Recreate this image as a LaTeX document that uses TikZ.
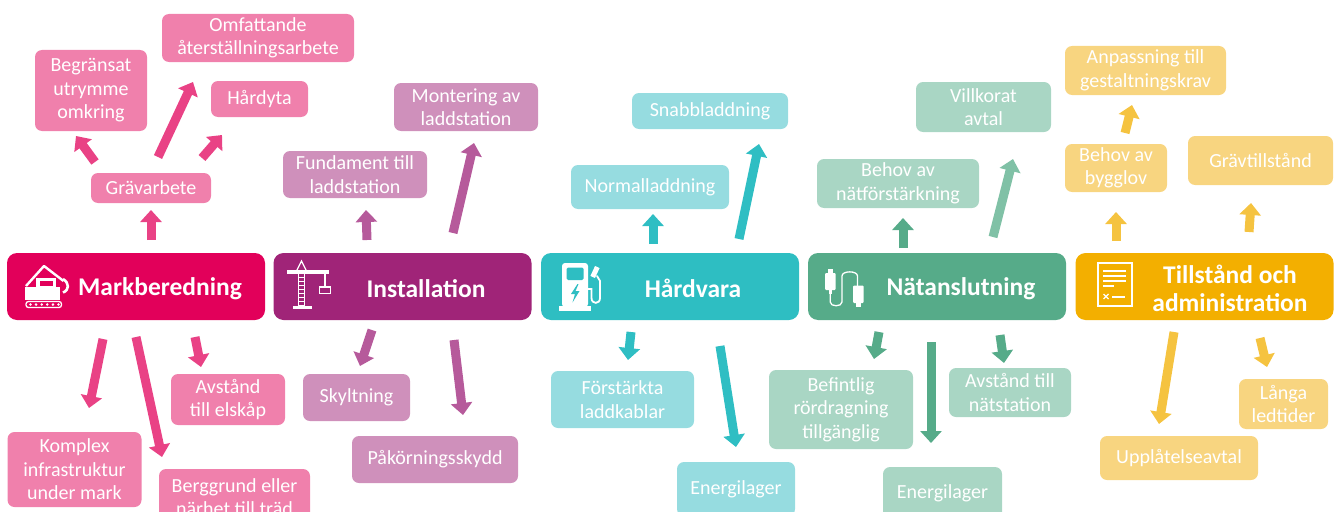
\documentclass[tikz,border=0pt]{standalone}
\usepackage{fontspec}
\setmainfont{Carlito}
\usetikzlibrary{arrows.meta}
\definecolor{mkD}{RGB}{226,0,90}
\definecolor{mkL}{RGB}{240,128,172}
\definecolor{mkA}{RGB}{233,66,133}
\definecolor{inD}{RGB}{160,36,120}
\definecolor{inL}{RGB}{207,144,187}
\definecolor{inA}{RGB}{182,90,155}
\definecolor{hwD}{RGB}{46,190,194}
\definecolor{hwL}{RGB}{150,220,224}
\definecolor{hwA}{RGB}{47,190,195}
\definecolor{ntD}{RGB}{86,171,137}
\definecolor{ntL}{RGB}{169,214,196}
\definecolor{ntA}{RGB}{86,171,137}
\definecolor{ntB}{RGB}{128,193,166}
\definecolor{tsD}{RGB}{243,175,0}
\definecolor{tsL}{RGB}{248,213,128}
\definecolor{tsA}{RGB}{245,195,64}
\newcommand\blockarrow[4]{\coordinate (#1s) at (#3); \coordinate (#1e) at (#4); \draw[arr,#2] (#1s) -- (#1e);}
\begin{document}
\begin{tikzpicture}[x=1pt,y=-1pt,
  lbox/.style={rounded corners=7pt, inner sep=0pt, align=center, text=white, font=\fontsize{20}{23.5}\selectfont},
  mbox/.style={rounded corners=10pt, inner sep=0pt, minimum width=258pt, minimum height=67pt},
  ttl/.style={text=white, font=\fontsize{25.5}{28.5}\selectfont\bfseries, align=center, inner sep=0pt, yshift=-2pt},
  arr/.style={line width=9pt, -{Triangle[width=21pt,length=12pt]}},
  ic/.style={white, line width=1.4pt}]
\useasboundingbox (0,0) rectangle (1337,511);

% ---------- main boxes ----------
\node[mbox, fill=mkD] (mk) at (136,286.5) {};
\node[mbox, fill=inD] (in) at (402.5,286.5) {};
\node[mbox, fill=hwD] (hw) at (670,286.5) {};
\node[mbox, fill=ntD] (nt) at (937,286.5) {};
\node[mbox, fill=tsD] (ts) at (1204.5,286.5) {};
\node[ttl] (mkT) at (160,286.5) {Markberedning};
\node[ttl] (inT) at (426,286.5) {Installation};
\node[ttl] (hwT) at (693,286.5) {Hårdvara};
\node[ttl] (ntT) at (961,286.5) {Nätanslutning};
\node[ttl] (tsT) at (1230,286.5) {Tillstånd och\\administration};

% ---------- icons ----------
% excavator
\fill[white] (25,287) rectangle (60,300);
\fill[white] (36,277.5) rectangle (55.5,288);
\fill[mkD] (40,280.5) rectangle (52.5,286);
\draw[white, line width=2.4pt, line join=round] (26,286) -- (44,266) -- (63.5,281);
\draw[white, line width=2.6pt] (63,279) .. controls (69.5,283) and (69.5,290) .. (63,292.5);
\draw[white, line width=1.3pt, rounded corners=2.5pt] (26,301.5) rectangle (61.5,307.5);
\foreach \i in {0,...,5} \fill[white] (30.5+\i*5.6,304.5) circle (1.4pt);
% crane
\fill[white] (287,270) rectangle (329,273.5);
\draw[ic, line width=1.3pt] (297,270) -- (301.5,261) -- (306,270);
\draw[ic, line width=1.3pt] (298.5,273) -- (298.5,306) (304.5,273) -- (304.5,306);
\foreach \yy in {277,281,...,305} \draw[white, line width=0.9pt] (298.5,\yy) -- (304.5,\yy);
\fill[white] (293,305.5) rectangle (311.5,309);
\draw[white, line width=1.2pt] (325,273) -- (325,287);
\draw[white, line width=1.5pt] (319.5,287) rectangle (330.5,293.5);
% fuel pump
\fill[white, rounded corners=3pt] (562,263) rectangle (588,307);
\fill[hwD, rounded corners=1.5pt] (566.5,267.5) rectangle (583.5,280);
\fill[hwD] (577.5,284) -- (571,294) -- (575,294) -- (572.5,302.5) -- (579.5,291) -- (575.5,291) -- (578.5,284) -- cycle;
\fill[white] (559,306) rectangle (591,311);
\draw[white, line width=1.8pt, line cap=round] (588,289) -- (591.5,289) -- (591.5,298) .. controls (591.5,304.5) and (600,304.5) .. (600,298) -- (600,281) -- (597,276);
\fill[white, rotate around={-25:(595,272)}] (592.5,266.5) rectangle (597.5,277.5);
% cable
\fill[white, rounded corners=1pt] (825,273) rectangle (835.5,290);
\fill[white] (828,269) rectangle (832.5,273);
\fill[white] (829,290) rectangle (831.5,294);
\draw[white, line width=1.3pt] (830.2,294) -- (830.2,302) .. controls (830.2,307) and (842,307) .. (842,302) -- (842,276) .. controls (842,270.5) and (857.5,270.5) .. (857.5,276) -- (857.5,286);
\fill[white, rounded corners=1pt] (853,285.5) rectangle (863.5,303);
\fill[white] (856,303) rectangle (860.5,306.5);
% document
\draw[white, line width=1.8pt] (1098,263) rectangle (1132,306);
\foreach \yy in {270,275,280} \fill[white] (1103,\yy) rectangle (1126,\yy+1.8);
\fill[white] (1103,285) rectangle (1114,286.8);
\draw[white, line width=1.3pt] (1103.5,294) -- (1108.5,299) (1103.5,299) -- (1108.5,294);
\fill[white] (1112,296) rectangle (1125,297.8);

% ---------- Markberedning labels ----------
\node[lbox, fill=mkL, minimum width=192pt, minimum height=48pt] (omf) at (258,38) {Omfattande\\återställningsarbete};
\node[lbox, fill=mkL, minimum width=112pt, minimum height=81pt] (beg) at (91,90.5) {Begränsat\\utrymme\\omkring};
\node[lbox, fill=mkL, minimum width=97pt, minimum height=36pt] (hard) at (259.5,99) {Hårdyta};
\node[lbox, fill=mkL, minimum width=120pt, minimum height=30pt] (grav) at (151,188) {Grävarbete};
\node[lbox, fill=mkL, minimum width=134pt, minimum height=75pt] (komp) at (74.5,469.5) {Komplex\\infrastruktur\\under mark};
\node[lbox, fill=mkL, minimum width=151pt, minimum height=56pt] (berg) at (234.5,497) {Berggrund eller\\närhet till träd};
\node[lbox, fill=mkL, minimum width=114pt, minimum height=51pt] (avst) at (228,399.5) {Avstånd\\till elskåp};
\blockarrow{m1}{mkA}{151,240}{151,210}
\blockarrow{m2}{mkA}{95,162}{76,136}
\blockarrow{m3}{mkA}{158,157}{193,82}
\blockarrow{m4}{mkA}{202,158}{222,135}
\blockarrow{m5}{mkA}{103,339}{89,408}
\blockarrow{m6}{mkA}{136,337}{162,457}
\blockarrow{m7}{mkA}{195,337}{201,367}

% ---------- Installation labels ----------
\node[lbox, fill=inL, minimum width=144pt, minimum height=47pt] (fund) at (355,174.5) {Fundament till\\laddstation};
\node[lbox, fill=inL, minimum width=144pt, minimum height=48pt] (mont) at (466,107) {Montering av\\laddstation};
\node[lbox, fill=inL, minimum width=107pt, minimum height=47pt] (skylt) at (356.5,397.5) {Skyltning};
\node[lbox, fill=inL, minimum width=166pt, minimum height=47pt] (pak) at (435,459.5) {Påkörningsskydd};
\blockarrow{i1}{inA}{367,240}{366,210}
\blockarrow{i2}{inA}{453,233}{474,143}
\blockarrow{i3}{inA}{372,330}{360,366}
\blockarrow{i4}{inA}{454,340}{463,415}

% ---------- Hårdvara labels ----------
\node[lbox, fill=hwL, minimum width=156pt, minimum height=36pt] (snabb) at (710,111) {Snabbladdning};
\node[lbox, fill=hwL, minimum width=158pt, minimum height=44pt] (norm) at (650,187) {Normalladdning};
\node[lbox, fill=hwL, minimum width=143pt, minimum height=57pt] (forst) at (622.5,399.5) {Förstärkta\\laddkablar};
\node[lbox, fill=hwL, minimum width=118pt, minimum height=54pt] (energA) at (736,489) {Energilager};
\blockarrow{h1}{hwA}{653,244}{653,214}
\blockarrow{h2}{hwA}{739,239}{759,144}
\blockarrow{h3}{hwA}{631,332}{628,360}
\blockarrow{h4}{hwA}{720,346}{736,447}

% ---------- Nätanslutning labels ----------
\node[lbox, fill=ntL, minimum width=135pt, minimum height=50pt] (villk) at (983.5,107) {Villkorat\\avtal};
\node[lbox, fill=ntL, minimum width=162pt, minimum height=49pt] (behov) at (898,183.5) {Behov av\\nätförstärkning};
\node[lbox, fill=ntL, minimum width=144pt, minimum height=79pt] (befint) at (841,409.5) {Befintlig\\rördragning\\tillgänglig};
\node[lbox, fill=ntL, minimum width=119pt, minimum height=52pt] (energB) at (942.5,493) {Energilager};
\node[lbox, fill=ntL, minimum width=122pt, minimum height=49pt] (avstB) at (1010,392.5) {Avstånd till\\nätstation};
\blockarrow{n1}{ntA}{903,248}{903,218}
\blockarrow{n2}{ntB}{993,237}{1013,159}
\blockarrow{n3}{ntA}{879,332}{874,359}
\blockarrow{n4}{ntA}{931,342}{931,443}
\blockarrow{n5}{ntA}{1000,335}{1004,363}

% ---------- Tillstånd labels ----------
\node[lbox, fill=tsL, minimum width=161pt, minimum height=49pt] (anp) at (1145.5,70.5) {Anpassning till\\gestaltningskrav};
\node[lbox, fill=tsL, minimum width=102pt, minimum height=48pt] (bygg) at (1116,168) {Behov av\\bygglov};
\node[lbox, fill=tsL, minimum width=145pt, minimum height=49pt] (gravt) at (1260.5,160.5) {Grävtillstånd};
\node[lbox, fill=tsL, minimum width=89pt, minimum height=50pt] (lang) at (1283.5,404) {Långa\\ledtider};
\node[lbox, fill=tsL, minimum width=158pt, minimum height=44pt] (uppl) at (1179,458) {Upplåtelseavtal};
\blockarrow{t1}{tsA}{1125,133}{1132,105}
\blockarrow{t2}{tsA}{1116,241}{1116,212}
\blockarrow{t3}{tsA}{1249,232}{1251,203}
\blockarrow{t4}{tsA}{1174,332}{1159,424}
\blockarrow{t5}{tsA}{1260,338}{1267,367}
\end{tikzpicture}
\end{document}
